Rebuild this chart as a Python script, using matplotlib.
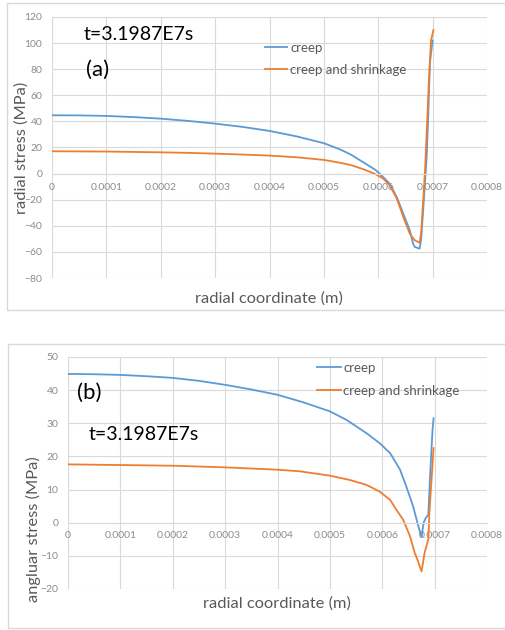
import matplotlib
matplotlib.use("Agg")
import matplotlib.pyplot as plt
from matplotlib.patches import Rectangle

plt.rcParams["font.family"] = ["Lato", "DejaVu Sans"]

W, H = 505, 630

# ---- panel (a): radial stress (x in 1e-4 m)
xa_creep = [0, 0.5, 1, 1.5, 2, 2.5, 3, 3.5, 4, 4.5, 5, 5.3, 5.5, 5.75, 5.95, 6.09,
            6.21, 6.34, 6.46, 6.58, 6.64, 6.67, 6.76, 6.79, 6.83, 6.89, 6.92,
            6.95, 7.0]
ya_creep = [44.7, 44.6, 44.2, 43.3, 42.1, 40.4, 38.3, 35.8, 32.7, 28.5, 23.3, 18.5,
            14.5, 8, 2.8, -2.6, -7.7, -18, -30.7, -43.4, -53.6, -56.2, -57.5, -50,
            -25.6, 12.7, 45, 85, 102]
xa_shrink = [0, 0.5, 1, 1.5, 2, 2.5, 3, 3.5, 4, 4.5, 5, 5.3, 5.5, 5.75, 5.95, 6.09,
             6.21, 6.34, 6.46, 6.58, 6.67, 6.76, 6.79, 6.83, 6.86, 6.9, 6.93,
             6.97, 7.015]
ya_shrink = [17.1, 17.0, 16.9, 16.6, 16.3, 15.9, 15.3, 14.6, 13.8, 12.5, 10.5, 8.3,
             6.5, 3, -0.5, -3.8, -9, -18.9, -33.2, -46, -51, -53, -45, -18, 2.5,
             40, 70, 102, 110]

# ---- panel (b): angular stress
xb_creep = [0, 0.5, 1, 1.5, 2, 2.5, 3, 3.5, 4, 4.5, 5, 5.32, 5.7, 5.95, 6.15,
            6.34, 6.46, 6.59, 6.69, 6.75, 6.79, 6.83, 6.88, 6.91, 6.96, 6.98]
yb_creep = [44.9, 44.8, 44.6, 44.2, 43.7, 42.8, 41.6, 40.2, 38.6, 36.3, 33.6, 31,
            27, 24, 21, 16, 10.9, 4.9, -1.1, -4.3, 0, 1.4, 2.4, 13, 28, 31.5]
xb_shrink = [0, 1, 2, 3, 4, 4.43, 5, 5.38, 5.7, 5.95, 6.15, 6.27, 6.4, 6.53, 6.62,
             6.67, 6.75, 6.81, 6.88, 6.9, 6.98]
yb_shrink = [17.6, 17.4, 17.2, 16.7, 16.0, 15.5, 14.2, 12.9, 11.4, 9.4, 6.9, 3.9,
             0.9, -4.1, -9.1, -11.1, -14.7, -9, -5, 3, 22.5]

X_TICKS = [0, 1, 2, 3, 4, 5, 6, 7, 8]
X_LABELS = ["0", "0.0001", "0.0002", "0.0003", "0.0004", "0.0005", "0.0006",
            "0.0007", "0.0008"]
YA_TICKS = list(range(-80, 121, 20))
YB_TICKS = list(range(-20, 51, 10))

BLUE = "#5b9bd5"
ORANGE = "#ed7d31"
GRID = "#d9d9d9"
TICK = "#8c8c8c"
LABEL = "#595959"


def px_box(l, t, r, b):
    return [l / W, 1 - b / H, (r - l) / W, (b - t) / H]


def ftext(fig, x, y, s, **kw):
    fig.text(x / W, 1 - y / H, s, **kw)


def panel(fig, rect, creep, shrink, yticks, xpad, ypad):
    ax = fig.add_axes(rect)
    ax.plot([v * 1e-4 for v in creep[0]], creep[1], color=BLUE, lw=1.3,
            label="creep")
    ax.plot([v * 1e-4 for v in shrink[0]], shrink[1], color=ORANGE, lw=1.3,
            label="creep and shrinkage")
    ax.set_xlim(0, 0.0008)
    ax.set_ylim(yticks[0], yticks[-1])
    ax.set_xticks([t * 1e-4 for t in X_TICKS])
    ax.set_xticklabels(X_LABELS)
    ax.set_yticks(yticks)
    ax.grid(color=GRID, lw=0.8)
    ax.set_axisbelow(True)
    for s in ("top", "right", "left"):
        ax.spines[s].set_visible(False)
    ax.spines["bottom"].set_position(("data", 0))
    ax.spines["bottom"].set_color(GRID)
    ax.tick_params(axis="x", length=0, pad=xpad, labelsize=7.5, labelcolor=TICK)
    ax.tick_params(axis="y", length=0, pad=ypad, labelsize=7.5, labelcolor=TICK)
    return ax


fig = plt.figure(figsize=(W / 100, H / 100), dpi=100)

# chart-area frames
fig.patches.append(Rectangle((7 / W, 1 - 310 / H), 520 / W, 307 / H,
                             transform=fig.transFigure, fill=False,
                             edgecolor=GRID, lw=1))
fig.patches.append(Rectangle((8 / W, 1 - 628 / H), 520 / W, 284 / H,
                             transform=fig.transFigure, fill=False,
                             edgecolor=GRID, lw=1))

ax_a = panel(fig, px_box(52, 17, 487, 278), (xa_creep, ya_creep),
             (xa_shrink, ya_shrink), YA_TICKS, 7, 7)
ax_a.legend(loc="upper left", bbox_to_anchor=(265 / W, 1 - 42 / H),
            bbox_transform=fig.transFigure, frameon=False, fontsize=9.5,
            handlelength=1.7, handletextpad=0.2, labelspacing=0.75,
            borderpad=0, borderaxespad=0, labelcolor=LABEL)

ax_b = panel(fig, px_box(68, 357, 487, 589), (xb_creep, yb_creep),
             (xb_shrink, yb_shrink), YB_TICKS, 6, 7)
ax_b.legend(loc="upper left", bbox_to_anchor=(317 / W, 1 - 362 / H),
            bbox_transform=fig.transFigure, frameon=False, fontsize=9.5,
            handlelength=1.8, handletextpad=0.2, labelspacing=0.8,
            borderpad=0, borderaxespad=0, labelcolor=LABEL)

# axis titles and annotations
ftext(fig, 22, 148, "radial stress (MPa)", rotation=90, ha="center", va="center",
      fontsize=11.8, color=LABEL)
ftext(fig, 269, 299, "radial coordinate (m)", ha="center", va="center",
      fontsize=11.8, color=LABEL)
ftext(fig, 84, 35, "t=3.1987E7s", ha="left", va="center", fontsize=14,
      color="black")
ftext(fig, 86, 70, "(a)", ha="left", va="center", fontsize=16, color="black")

ftext(fig, 33, 529, "angluar stress (MPa)", rotation=90, ha="center",
      va="center", fontsize=11.8, color=LABEL)
ftext(fig, 277, 604, "radial coordinate (m)", ha="center", va="center",
      fontsize=11.8, color=LABEL)
ftext(fig, 77, 393, "(b)", ha="left", va="center", fontsize=16, color="black")
ftext(fig, 89, 434, "t=3.1987E7s", ha="left", va="center", fontsize=14,
      color="black")

fig.savefig("out.png", dpi=100)
